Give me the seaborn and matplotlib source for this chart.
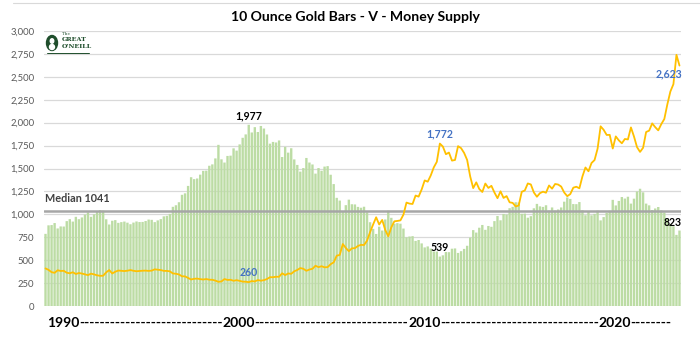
import matplotlib
matplotlib.use("Agg")
import matplotlib.pyplot as plt
import numpy as np
import pandas as pd
import seaborn as sns
from matplotlib.patches import Ellipse
from matplotlib.lines import Line2D

# ---------------- data (bi-monthly: Jan, Mar, May, Jul, Sep, Nov) ----------------
years = list(range(1990, 2025))
months = ["Jan", "Mar", "May", "Jul", "Sep", "Nov"]
periods = [f"{m} {y}" for y in years for m in months]

bars_ratio = [
    787, 880, 883, 905, 846, 868,
    867, 926, 948, 921, 973, 947,
    966, 997, 1021, 973, 1000, 1033,
    1045, 1040, 946, 889, 930, 937,
    907, 915, 921, 909, 892, 910,
    922, 916, 917, 927, 943, 940,
    915, 934, 948, 978, 984, 1005,
    1082, 1099, 1132, 1213, 1229, 1310,
    1405, 1384, 1391, 1433, 1474, 1476,
    1530, 1545, 1610, 1758, 1600, 1565,
    1637, 1640, 1720, 1695, 1763, 1835,
    1872, 1977, 1893, 1951, 1898, 1964,
    1936, 1871, 1771, 1790, 1784, 1806,
    1625, 1736, 1673, 1721, 1599, 1539,
    1466, 1505, 1615, 1565, 1544, 1444,
    1505, 1475, 1521, 1526, 1432, 1330,
    1180, 1150, 1030, 1100, 1160, 1110,
    1108, 1081, 1072, 1083, 1022, 914,
    841, 786, 865, 823, 944, 1040,
    962, 897, 904, 898, 845, 749,
    758, 762, 710, 720, 683, 639,
    650, 626, 595, 594, 539, 553,
    589, 587, 625, 628, 579, 598,
    623, 657, 746, 828, 801, 854,
    884, 831, 873, 864, 926, 982,
    935, 1004, 997, 1067, 1082, 1132,
    1130, 1006, 1008, 963, 980, 1066,
    1114, 1087, 1081, 1099, 1041, 1075,
    1041, 1053, 1075, 1138, 1184, 1168,
    1112, 1111, 1134, 1044, 990, 1029,
    989, 1005, 1040, 934, 970, 1016,
    1039, 1158, 1097, 1146, 1189, 1172,
    1192, 1117, 1171, 1249, 1279, 1240,
    1117, 1098, 1047, 1064, 1080, 1043,
    1020, 948, 895, 870, 776, 823,
]

gold_price = [
    410, 394, 369, 362, 390, 382,
    384, 363, 357, 368, 349, 360,
    354, 345, 337, 353, 345, 335,
    329, 330, 367, 392, 355, 374,
    387, 384, 381, 385, 392, 384,
    379, 382, 385, 386, 383, 386,
    400, 396, 392, 383, 383, 378,
    355, 352, 344, 324, 323, 306,
    289, 297, 299, 293, 289, 294,
    287, 286, 277, 264, 268, 294,
    284, 286, 275, 282, 274, 266,
    265, 260, 272, 268, 283, 276,
    282, 294, 314, 314, 319, 319,
    357, 337, 355, 351, 379, 393,
    414, 406, 384, 398, 406, 439,
    424, 434, 422, 424, 456, 476,
    549, 557, 676, 633, 598, 629,
    631, 655, 667, 665, 713, 806,
    889, 968, 889, 939, 829, 760,
    858, 924, 928, 934, 997, 1128,
    1117, 1113, 1205, 1193, 1271, 1370,
    1356, 1424, 1512, 1573, 1772, 1739,
    1656, 1674, 1586, 1593, 1744, 1722,
    1670, 1593, 1414, 1286, 1349, 1276,
    1244, 1336, 1288, 1311, 1238, 1176,
    1251, 1179, 1199, 1131, 1125, 1086,
    1097, 1246, 1260, 1337, 1326, 1238,
    1192, 1231, 1247, 1236, 1315, 1280,
    1331, 1325, 1303, 1238, 1198, 1221,
    1291, 1301, 1284, 1413, 1511, 1470,
    1560, 1592, 1716, 1960, 1922, 1866,
    1867, 1718, 1850, 1807, 1775, 1822,
    1817, 1948, 1849, 1733, 1681, 1726,
    1898, 1913, 1992, 1951, 1916, 1984,
    2040, 2200, 2340, 2420, 2740, 2623,
]

median_value = 1041
yticks = list(range(0, 3001, 250))
title = "10 Ounce Gold Bars - V - Money Supply"
decade_labels = ["1990", "2000", "2010", "2020"]

df = pd.DataFrame({"period": periods, "ratio": bars_ratio, "gold": gold_price})
df["pos"] = np.arange(len(df))

# ---------------- style ----------------
sns.set_theme(style="white")
plt.rcParams["font.family"] = ["Lato", "DejaVu Sans"]

W, H = 700, 342
fig = plt.figure(figsize=(W / 100, H / 100), dpi=100)
ax = fig.add_axes([44 / W, 1 - 306 / H, 637 / W, 275 / H])

BAR_C = "#bcdca4"
GOLD_C = "#ffc000"
BLUE = "#4472c4"

ax.set_axisbelow(True)
for v in yticks:
    ax.axhline(v, color="#d9d9d9", lw=0.9, zorder=0)

sns.barplot(data=df, x="period", y="ratio", color=BAR_C, width=0.78,
            errorbar=None, saturation=1, ax=ax, zorder=1, linewidth=0)
for p in ax.patches:
    p.set_snap(False)
ax.axhline(median_value, color="#a6a6a6", lw=1.8, zorder=3)
sns.lineplot(data=df, x="pos", y="gold", color=GOLD_C, lw=1.3, ax=ax, zorder=4)

ax.set_xlim(-0.5, len(df) - 0.5)
ax.set_ylim(0, 3000)
ax.set_yticks(yticks)
ax.set_yticklabels([f"{v:,}" for v in yticks], fontsize=6.8, color="#595959")
ax.tick_params(axis="y", length=0, pad=7)
ax.set_xticks([])
ax.set_xlabel("")
ax.set_ylabel("")
for s in ax.spines.values():
    s.set_visible(False)
ax.grid(False)

# annotations
imax = int(np.argmax(bars_ratio))
imin = int(np.argmin(bars_ratio))
gmin = int(np.argmin(gold_price[:150]))
gmax = int(np.argmax(gold_price[:150]))
last = len(df) - 1
kw = dict(fontsize=7.6, fontweight="bold", ha="center", va="center", zorder=6)
ax.text(imax, bars_ratio[imax] + 100, f"{bars_ratio[imax]:,}", color="black", **kw)
ax.text(gmin, gold_price[gmin] + 110, f"{gold_price[gmin]:,}", color=BLUE, **kw)
ax.text(gmax, gold_price[gmax] + 108, f"{gold_price[gmax]:,}", color=BLUE, **kw)
ax.text(imin, bars_ratio[imin] + 100, f"{bars_ratio[imin]:,}", color="black", **kw)
kw_r = dict(kw, ha="right")
ax.text(last + 0.8, gold_price[last] - 90, f"{gold_price[last]:,}", color=BLUE, **kw_r)
ax.text(last + 0.8, bars_ratio[last] + 90, f"{bars_ratio[last]:,}", color="black", **kw_r)
ax.text(-0.3, median_value + 70, f"Median {median_value}", fontsize=7.8,
        fontweight="bold", color="#404040", ha="left", va="bottom", zorder=6)

# title
fig.text(355 / W, 1 - 17 / H, title, fontsize=10.1, fontweight="bold",
         ha="center", va="center", color="black")

# x-axis decade label built from years + dashes
fig.canvas.draw()
r = fig.canvas.get_renderer()
xl_kw = dict(fontsize=10, fontweight="bold", color="black", va="center")
ty = 1 - 323 / H
probe = fig.text(0, 0, "-" * 20, **xl_kw)
dash_w = probe.get_window_extent(r).width / 20
probe.remove()
starts = [47, 222, 408, 598]
end_px = 672
for i, lab in enumerate(decade_labels):
    t = fig.text(starts[i] / W, ty, lab, ha="left", **xl_kw)
    wpx = t.get_window_extent(r).width
    nxt = starts[i + 1] if i + 1 < len(starts) else end_px
    n = max(0, int(round((nxt - starts[i] - wpx) / dash_w)))
    fig.text((starts[i] + wpx) / W, ty, "-" * n, ha="left", **xl_kw)

# top frame line
fig.add_artist(Line2D([13 / W, 1], [1 - 3 / H, 1 - 3 / H], color="#d9d9d9", lw=0.8))

# logo
LOGO = "#1f4e2c"
fig.add_artist(Ellipse((52 / W, 1 - 43 / H), 11 / W, 15 / H, color=LOGO))
fig.add_artist(Ellipse((52 / W, 1 - 41 / H), 3.5 / W, 4.5 / H, color="white"))
fig.add_artist(Ellipse((52 / W, 1 - 47 / H), 5 / W, 5 / H, color="white"))
fig.text(62 / W, 1 - 34 / H, "The", fontsize=3, family="DejaVu Serif", color=LOGO, va="center")
fig.text(62 / W, 1 - 39.5 / H, "GREAT", fontsize=4.6, family="DejaVu Serif",
         fontweight="bold", color=LOGO, va="center")
fig.text(62 / W, 1 - 46.5 / H, "O'NEILL", fontsize=4.6, family="DejaVu Serif",
         fontweight="bold", color=LOGO, va="center")
fig.add_artist(Line2D([47 / W, 89 / W], [1 - 53 / H, 1 - 53 / H], color=LOGO, lw=0.7))

fig.savefig("out.png", dpi=100)
